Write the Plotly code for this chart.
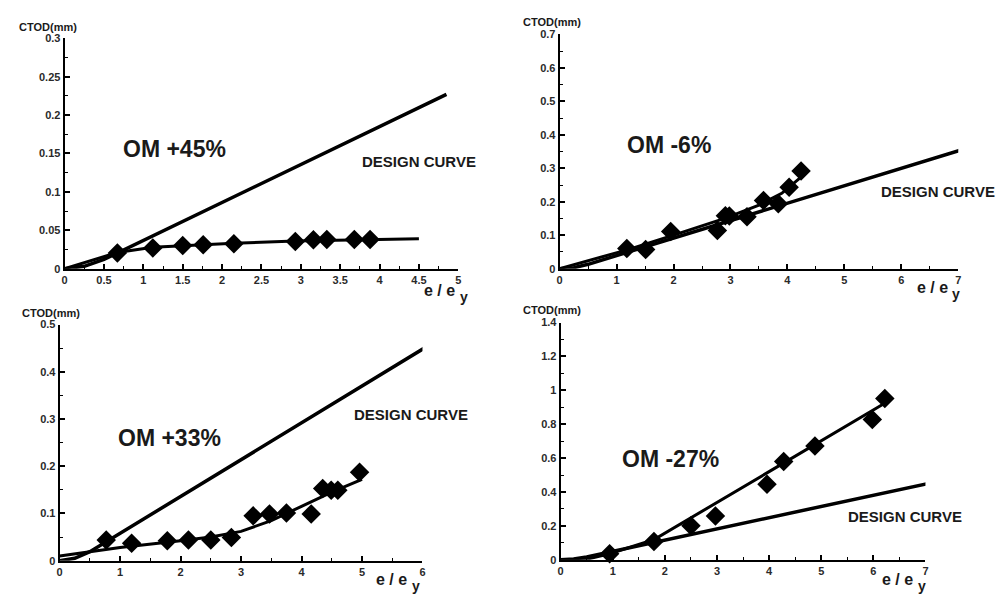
import plotly.graph_objects as go

W, H = 1004, 601

# ---------------- data ----------------
# Panel 1: OM +45%
p1_x = [0.67, 1.12, 1.50, 1.76, 2.15, 2.93, 3.16, 3.33, 3.68, 3.88]
p1_y = [0.0205, 0.027, 0.030, 0.031, 0.0325, 0.0355, 0.0375, 0.038, 0.038, 0.038]
p1_fit_x = [0, 0.67, 1.12, 1.5, 2.15, 2.93, 3.88, 4.5]
p1_fit_y = [0, 0.021, 0.028, 0.030, 0.033, 0.036, 0.038, 0.039]
p1_des_x = [0, 0.25, 0.5, 4.85]
p1_des_y = [0, 0.003, 0.012, 0.227]

# Panel 2: OM -6%
p2_x = [1.18, 1.51, 1.95, 2.77, 2.91, 2.98, 3.29, 3.58, 3.84, 4.03, 4.24]
p2_y = [0.060, 0.057, 0.111, 0.114, 0.158, 0.157, 0.155, 0.204, 0.194, 0.243, 0.292]
p2_fit_x = [0, 1.2, 2.0, 2.9, 3.5, 3.9, 4.27]
p2_fit_y = [0, 0.057, 0.100, 0.150, 0.190, 0.225, 0.278]
p2_des_x = [0, 0.25, 0.5, 7.06]
p2_des_y = [0, 0.003, 0.013, 0.355]

# Panel 3: OM +33%
p3_x = [0.77, 1.19, 1.78, 2.13, 2.50, 2.84, 3.20, 3.47, 3.75, 4.16, 4.35, 4.49, 4.60, 4.96]
p3_y = [0.044, 0.037, 0.042, 0.044, 0.044, 0.049, 0.095, 0.099, 0.101, 0.099, 0.153, 0.149, 0.149, 0.187]
p3_fit_x = [0, 1.0, 2.0, 2.5, 3.0, 3.5, 4.0, 4.5, 5.0]
p3_fit_y = [0.01, 0.028, 0.042, 0.050, 0.062, 0.085, 0.115, 0.145, 0.172]
p3_des_x = [0, 0.25, 0.5, 6.03]
p3_des_y = [0, 0.005, 0.019, 0.45]

# Panel 4: OM -27%
p4_x = [0.94, 1.79, 2.50, 2.97, 3.96, 4.28, 4.88, 5.98, 6.22]
p4_y = [0.035, 0.108, 0.200, 0.258, 0.445, 0.580, 0.671, 0.827, 0.951]
p4_fit_x = [0, 0.5, 0.94, 1.8, 4.0, 6.25]
p4_fit_y = [0, 0.003, 0.035, 0.12, 0.52, 0.93]
p4_des_x = [0, 0.25, 0.5, 7.05]
p4_des_y = [0, 0.004, 0.0165, 0.45]

labels = ["OM +45%", "OM -6%", "OM +33%", "OM -27%"]

# ---------------- layout geometry (pixels) ----------------
panels = [
    dict(px=(62, 458), py=(33, 268), xmax=5, ymax=0.3, xd=0.5, yd=0.05),
    dict(px=(560, 961), py=(29, 268), xmax=7, ymax=0.7, xd=1, yd=0.1),
    dict(px=(57, 422), py=(325, 566), xmax=6, ymax=0.5, xd=1, yd=0.1),
    dict(px=(561, 928), py=(323, 565), xmax=7, ymax=1.4, xd=1, yd=0.2),
]
data = [
    (p1_x, p1_y, p1_fit_x, p1_fit_y, p1_des_x, p1_des_y),
    (p2_x, p2_y, p2_fit_x, p2_fit_y, p2_des_x, p2_des_y),
    (p3_x, p3_y, p3_fit_x, p3_fit_y, p3_des_x, p3_des_y),
    (p4_x, p4_y, p4_fit_x, p4_fit_y, p4_des_x, p4_des_y),
]

FONT = "Liberation Sans"
TXT = "#1a1a1a"

fig = go.Figure()
layout = dict(
    width=W, height=H, margin=dict(l=0, r=0, t=0, b=0),
    paper_bgcolor="white", plot_bgcolor="white", showlegend=False,
    font=dict(family=FONT, color=TXT),
)
annotations = []

def fmt(v):
    return ("%.3f" % v).rstrip("0").rstrip(".")

for i, (p, d) in enumerate(zip(panels, data)):
    n = "" if i == 0 else str(i + 1)
    xa, ya = "x" + n, "y" + n
    mx, my, fx, fy, dx, dy = d
    fig.add_trace(go.Scatter(x=dx, y=dy, xaxis=xa, yaxis=ya, mode="lines",
                             line=dict(color="black", width=3.5), cliponaxis=False))
    fig.add_trace(go.Scatter(x=fx, y=fy, xaxis=xa, yaxis=ya, mode="lines",
                             line=dict(color="black", width=3), cliponaxis=False))
    fig.add_trace(go.Scatter(x=mx, y=my, xaxis=xa, yaxis=ya, mode="markers",
                             marker=dict(symbol="diamond", size=15, color="black"),
                             cliponaxis=False))
    x0, x1 = p["px"]
    yt, yb = p["py"]
    nx = int(round(p["xmax"] / p["xd"]))
    ny = int(round(p["ymax"] / p["yd"]))
    xt = [k * p["xd"] for k in range(nx + 1)]
    yticks = [k * p["yd"] for k in range(ny + 1)]
    common = dict(showline=True, linecolor="black", linewidth=2, showgrid=False,
                  zeroline=False, ticks="inside", ticklen=5, tickwidth=1.5,
                  tickcolor="black", fixedrange=True,
                  tickfont=dict(family=FONT, size=11, color="#2a2a2a", weight="bold"),
                  minor=dict(ticks="inside", ticklen=3, tickwidth=1, tickcolor="black"))
    layout["xaxis" + n] = dict(
        common, domain=[x0 / W, x1 / W], range=[0, p["xmax"]], anchor=ya,
        tickmode="array", tickvals=xt, ticktext=[fmt(v) for v in xt],
        minor=dict(common["minor"], dtick=p["xd"] / 2, tick0=0))
    layout["yaxis" + n] = dict(
        common, domain=[1 - yb / H, 1 - yt / H], range=[0, p["ymax"]], anchor=xa,
        tickmode="array", tickvals=yticks, ticktext=[fmt(v) for v in yticks],
        minor=dict(common["minor"], dtick=p["yd"] / 2, tick0=0))

def ann(text, cx, cy, size, bold=True, xanchor="center"):
    annotations.append(dict(
        text=text, x=cx / W, y=1 - cy / H, xref="paper", yref="paper",
        showarrow=False, xanchor=xanchor, yanchor="middle",
        font=dict(family=FONT, size=size, color=TXT, weight="bold" if bold else "normal")))

# y-axis titles
for cx, cy in [(45, 21), (552, 16), (48, 313), (552, 310)]:
    ann("CTOD(mm)", cx, cy, 11)
# x-axis titles: "e / e" with subscript "y" as a second text
for lx, cy in [(422, 290), (917, 287), (373, 585), (882, 585)]:
    ann("e / e", lx, cy, 16, xanchor="left")
    ann("y", lx + 36, cy + 7, 14, xanchor="left")
# panel labels
for t, (cx, cy) in zip(labels, [(173, 146), (670, 142), (167, 441), (672, 462)]):
    ann(t, cx, cy, 23)
# design curve labels
for cx, cy in [(418, 159), (941, 189), (410, 417), (907, 521)]:
    ann("DESIGN CURVE", cx, cy, 15)

layout["annotations"] = annotations
fig.update_layout(**layout)
fig.write_html("out.html")
